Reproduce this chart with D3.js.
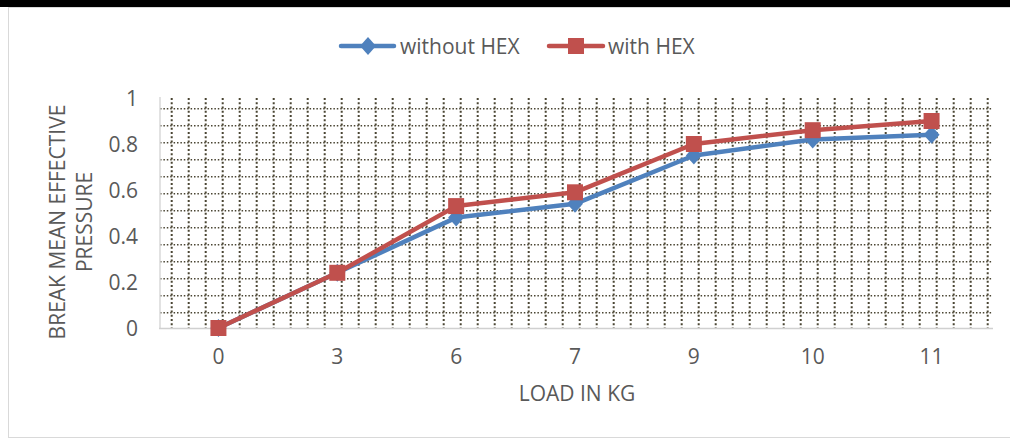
<!DOCTYPE html>
<html>
<head>
<meta charset="utf-8">
<script src="https://cdn.jsdelivr.net/npm/d3@7"></script>
<style>
  html, body { margin: 0; padding: 0; background: #fff; }
  svg { display: block; }
  text { font-family: "Open Sans", "Liberation Sans", sans-serif; fill: #595959; }
</style>
</head>
<body>
<svg id="chart" width="1010" height="439"></svg>
<script>
// Load (kg) on the engine
const categories = ["0", "3", "6", "7", "9", "10", "11"];
// Brake mean effective pressure for each load
const withoutHex = [0, 0.24, 0.48, 0.54, 0.75, 0.82, 0.84];
const withHex    = [0, 0.24, 0.53, 0.59, 0.80, 0.86, 0.90];
const yTicks = [0, 0.2, 0.4, 0.6, 0.8, 1];
const seriesNames = ["without HEX", "with HEX"];
const seriesColors = ["#4f81bd", "#c0504d"];

const svg = d3.select("#chart");
const W = 1010, H = 439;
const FS = 21;

// frame: dark strip along the top, light border around the chart
svg.append("rect").attr("x", 0).attr("y", 0).attr("width", W).attr("height", 7).attr("fill", "#000");
svg.append("rect").attr("x", 8.5).attr("y", 7.5).attr("width", W + 20).attr("height", 430)
  .attr("fill", "none").attr("stroke", "#d9d9d9").attr("stroke-width", 1);

const plot = { left: 159, right: 991, top: 98, bottom: 328 };

const x = d3.scaleBand().domain(categories).range([plot.left, plot.right]).paddingInner(0).paddingOuter(0);
const y = d3.scaleLinear().domain([0, 1]).range([plot.bottom, plot.top]);

// dotted grid fill of the plot area (fixed 17px cell)
const grid = svg.append("g");
const cell = 17;
const vx = d3.range(171.7, plot.right + 2, cell);
const hy = d3.range(312.7, plot.top, -cell);
grid.selectAll("line.v").data(vx).join("line")
  .attr("x1", d => d).attr("x2", d => d)
  .attr("y1", plot.top).attr("y2", plot.bottom)
  .attr("stroke", "#4a4533").attr("stroke-width", 2)
  .attr("stroke-dasharray", "2,2.25");
grid.selectAll("line.h").data(hy).join("line")
  .attr("x1", plot.left + 1).attr("x2", plot.right + 2)
  .attr("y1", d => d).attr("y2", d => d)
  .attr("stroke", "#4a4533").attr("stroke-width", 1.6)
  .attr("stroke-dasharray", "1.5,1.9");

// plot edges
svg.append("line").attr("x1", plot.left + 1).attr("x2", plot.left + 1)
  .attr("y1", plot.top - 1).attr("y2", plot.bottom + 1)
  .attr("stroke", "#d9d9d9").attr("stroke-width", 1.5);
svg.append("line").attr("x1", plot.left).attr("x2", plot.right + 2)
  .attr("y1", plot.bottom + 0.5).attr("y2", plot.bottom + 0.5)
  .attr("stroke", "#d0d0d0").attr("stroke-width", 1.5);

// y axis tick labels
const yAxis = d3.axisLeft(y).tickValues(yTicks).tickSize(0).tickPadding(0).tickFormat(d3.format("~g"));
const gy = svg.append("g").attr("transform", `translate(138,0)`).call(yAxis);
gy.select(".domain").remove();
gy.selectAll("text").attr("font-size", FS).attr("fill", "#595959")
  .attr("font-family", "'Open Sans', sans-serif").attr("dy", "0.36em");

// x axis tick labels
const xAxis = d3.axisBottom(x).tickSize(0).tickPadding(0);
const gx = svg.append("g").attr("transform", `translate(0,349.5)`).call(xAxis);
gx.select(".domain").remove();
gx.selectAll("text").attr("font-size", FS).attr("fill", "#595959")
  .attr("font-family", "'Open Sans', sans-serif").attr("dy", "0.71em");

// axis titles
svg.append("text").attr("x", 577).attr("y", 400.5).attr("text-anchor", "middle")
  .attr("font-size", FS).text("LOAD IN KG");
const yt = svg.append("g").attr("transform", "translate(0,222) rotate(-90)");
yt.append("text").attr("x", 0).attr("y", 64.5).attr("text-anchor", "middle")
  .attr("font-size", FS).text("BREAK MEAN EFFECTIVE");
yt.append("text").attr("x", 0).attr("y", 92).attr("text-anchor", "middle")
  .attr("font-size", FS).text("PRESSURE");

// series
const diamond = "M0,-9L8,0L0,9L-8,0Z";
const square = "M-8,-8H8V8H-8Z";
const markers = [diamond, square];
const seriesData = [withoutHex, withHex];
const line = d3.line().x((d, i) => x(categories[i]) + x.bandwidth() / 2).y(d => y(d));

seriesData.forEach((vals, s) => {
  const g = svg.append("g");
  g.append("path").datum(vals).attr("d", line)
    .attr("fill", "none").attr("stroke", seriesColors[s]).attr("stroke-width", 4.5)
    .attr("stroke-linejoin", "round").attr("stroke-linecap", "round");
  g.selectAll("path.m").data(vals).join("path").attr("class", "m")
    .attr("d", markers[s])
    .attr("transform", (d, i) => `translate(${x(categories[i]) + x.bandwidth() / 2},${y(d)})`)
    .attr("fill", seriesColors[s]);
});

// legend
const legendItems = [
  { x0: 341, x1: 394, mx: 368, tx: 400 },
  { x0: 549, x1: 603, mx: 576, tx: 608 }
];
const lg = svg.append("g");
legendItems.forEach((it, s) => {
  lg.append("line").attr("x1", it.x0).attr("x2", it.x1).attr("y1", 46).attr("y2", 46)
    .attr("stroke", seriesColors[s]).attr("stroke-width", 4.5).attr("stroke-linecap", "round");
  lg.append("path").attr("d", markers[s]).attr("transform", `translate(${it.mx},46)`)
    .attr("fill", seriesColors[s]);
  lg.append("text").attr("x", it.tx).attr("y", 53.5).attr("font-size", FS).text(seriesNames[s]);
});
</script>
</body>
</html>
